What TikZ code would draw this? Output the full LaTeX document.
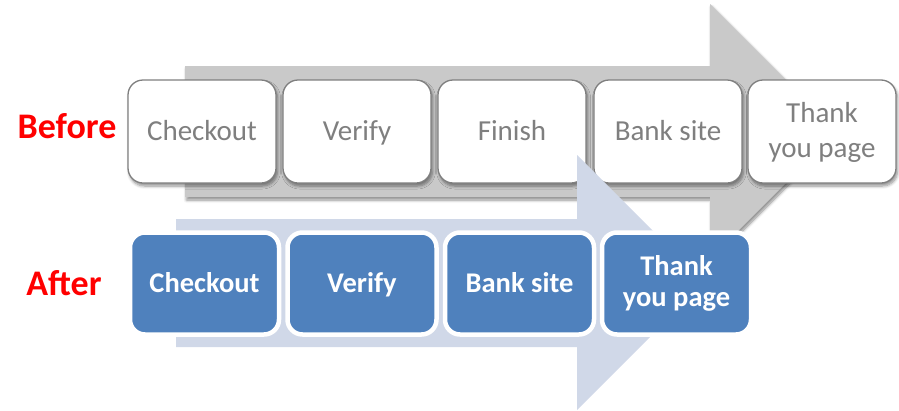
\documentclass[tikz,border=0pt]{standalone}
\usepackage{fontspec}
\setmainfont{Carlito}
\usetikzlibrary{shadows.blur}
\definecolor{arrowgray}{HTML}{C9C9C9}
\definecolor{arrowblue}{HTML}{D0D8E8}
\definecolor{boxblue}{HTML}{4F81BD}
\definecolor{edgegray}{HTML}{7F7F7F}
\definecolor{labelred}{HTML}{FF0000}

\begin{document}
\begin{tikzpicture}[x=1pt,y=-1pt,
  softshadow/.style={blur shadow={shadow xshift=1.5pt, shadow yshift=-3pt,
      shadow blur radius=3pt, shadow blur steps=6, shadow opacity=45}},
  oldstep/.style={draw=edgegray, line width=1.3pt, fill=white,
      rounded corners=15pt, minimum width=148pt, minimum height=103pt,
      align=center, text=edgegray, inner sep=0pt,
      font=\fontsize{29}{35}\selectfont, softshadow},
  newstep/.style={draw=white, line width=4.5pt, fill=boxblue,
      rounded corners=15pt, minimum width=149pt, minimum height=102pt,
      align=center, text=white, inner sep=0pt,
      font=\bfseries\fontsize{28.5}{31}\selectfont},
  rowlabel/.style={text=labelred, inner sep=0pt,
      font=\bfseries\fontsize{36}{40}\selectfont}]

\useasboundingbox (0,0) rectangle (899,410);

% flow arrow behind the old sequence
\fill[arrowgray, softshadow]
  (185,66) -- (710,66) -- (710,4) -- (837.5,131.5) -- (710,259)
  -- (710,197) -- (185,197) -- cycle;

% old sequence (text box height/depth fix the last baseline)
\tikzset{oldone/.style={text height=18pt, text depth=0pt},
         oldtwo/.style={text height=51pt, text depth=0pt}}
\node[oldstep, oldone] (oCheckout) at (202,131.5) {Checkout};
\node[oldstep, oldone] (oVerify)   at (357,131.5) {Verify};
\node[oldstep, oldone] (oFinish)   at (512,131.5) {Finish};
\node[oldstep, oldone] (oBank)     at (668,131.5) {Bank site};
\node[oldstep, oldtwo] (oThanks)   at (822,131.5) {Thank\\you page};

% flow arrow behind the new sequence
\fill[arrowblue]
  (176,219) -- (577,219) -- (577,155) -- (704.5,282.5) -- (577,410)
  -- (577,347) -- (176,347) -- cycle;

% new sequence
\tikzset{newone/.style={text height=17pt, text depth=0pt},
         newtwo/.style={text height=45pt, text depth=0pt}}
\node[newstep, newone] (nCheckout) at (204.5,283.5) {Checkout};
\node[newstep, newone] (nVerify)   at (362,283.5) {Verify};
\node[newstep, newone] (nBank)     at (519.5,283.5) {Bank site};
\node[newstep, newtwo] (nThanks)   at (676.5,283.5) {Thank\\you page};

% row labels
\node[rowlabel, anchor=base] (before) at (67,138) {Before};
\node[rowlabel, anchor=base] (after)  at (64,295) {After};
\end{tikzpicture}
\end{document}
